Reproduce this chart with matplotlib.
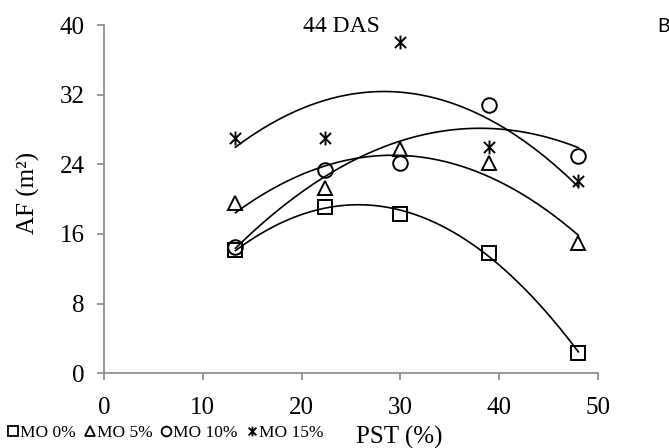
import numpy as np
import matplotlib.pyplot as plt
from matplotlib.path import Path
from matplotlib.lines import Line2D

pst = [13.3, 22.4, 30.0, 39.0, 48.0]
mo0 = [14.1, 19.1, 18.3, 13.8, 2.3]
mo5 = [19.5, 21.3, 25.8, 24.1, 15.0]
mo10 = [14.5, 23.3, 24.1, 30.8, 25.0]
mo15 = [27.0, 27.0, 38.1, 26.0, 22.1]
labels = ['MO 0%', 'MO 5%', 'MO 10%', 'MO 15%']

# asterisk marker like Excel's: vertical bar plus an X
star = Path([(0, -1), (0, 1), (-0.8, -0.8), (0.8, 0.8), (-0.8, 0.8), (0.8, -0.8)],
            [Path.MOVETO, Path.LINETO, Path.MOVETO, Path.LINETO, Path.MOVETO, Path.LINETO])
markers = ['s', '^', 'o', star]
sizes = [10, 9.5, 10.5, 10]

serif = 'Liberation Serif'
fig = plt.figure(figsize=(6.69, 4.48), dpi=100)
ax = fig.add_axes([0.1555, 0.167, 0.7385, 0.777])

x = np.array(pst)
xs = np.linspace(x.min(), x.max(), 200)
for ys, m, s in zip([mo0, mo5, mo10, mo15], markers, sizes):
    # second-order trendline, as in the spreadsheet
    c = np.polyfit(x, ys, 2)
    ax.plot(xs, np.polyval(c, xs), color='black', lw=1.2, zorder=2)
    ax.plot(x, ys, ls='none', marker=m, ms=s, mfc='none', mec='black', mew=1.4, zorder=3)

ax.set_xlim(0, 50)
ax.set_ylim(0, 40)
ax.set_xticks(range(0, 51, 10))
ax.set_yticks(range(0, 41, 8))
for sp in ['top', 'right']:
    ax.spines[sp].set_visible(False)
for sp in ['left', 'bottom']:
    ax.spines[sp].set_color('#868686')
    ax.spines[sp].set_linewidth(1.2)
ax.tick_params(colors='#868686', labelcolor='black', length=5, width=1.2,
               labelsize=18, pad=9)
ax.tick_params(axis='x', pad=12)
for lab in ax.get_xticklabels() + ax.get_yticklabels():
    lab.set_fontfamily(serif)

fig.text(0.042, 0.57, 'AF (m²)', fontsize=18, family=serif, rotation=90,
         ha='center', va='center')
fig.text(0.597, 0.024, 'PST (%)', fontsize=18, family=serif, ha='center', va='center')
fig.text(0.51, 0.94, '44 DAS', fontsize=17, family=serif, ha='center', va='center')
fig.text(0.992, 0.94, 'B', fontsize=14, family='Lato', ha='center', va='center')

handles = [Line2D([], [], ls='none', marker=m, ms=7, mfc='none', mec='black', mew=1.3)
           for m in markers]
fig.legend(handles, labels, loc='center left', bbox_to_anchor=(0.012, 0.034), ncol=4,
           frameon=False, prop={'family': serif, 'size': 12.5}, handlelength=0.6,
           handletextpad=0.1, columnspacing=0.5, borderaxespad=0, borderpad=0)

fig.savefig('out.png', dpi=100)
